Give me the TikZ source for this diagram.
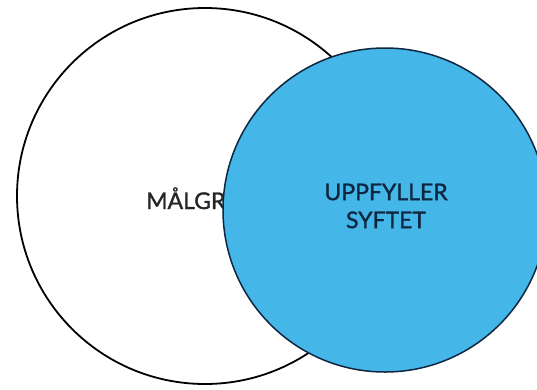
\documentclass[tikz,border=0pt]{standalone}
\usepackage{fontspec}
\setmainfont{Lato}
\newfontfamily\labelfont{Lato}[FakeBold=1.2]
\definecolor{skyblue}{RGB}{69,182,232}
\definecolor{navy}{RGB}{14,38,64}
\begin{document}
\begin{tikzpicture}[x=1pt,y=-1pt,
    label/.style={font=\labelfont\fontsize{23}{28}\selectfont, inner sep=0pt, align=center}]

\useasboundingbox (0,0) rectangle (537,389);

\coordinate (M) at (205,196);
\coordinate (U) at (385,210);

% target group
\draw[line width=1.8pt, fill=white] (M) circle (188);
\node[label, anchor=base west, text=black!85] (malgr) at (146,209) {MÅLGR};

% fulfils the purpose
\draw[line width=1.5pt, draw=navy, fill=skyblue] (U) circle (162);
\node[label, text=navy] (syfte) at (386,206) {UPPFYLLER\\SYFTET};

\end{tikzpicture}
\end{document}
